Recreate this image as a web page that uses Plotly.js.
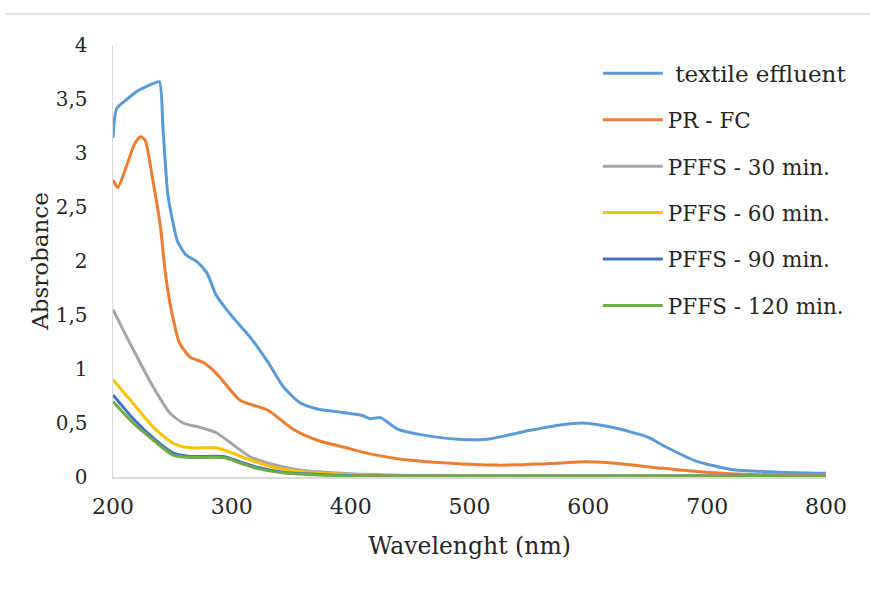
<!DOCTYPE html>
<html>
<head>
<meta charset="utf-8">
<script src="https://cdn.plot.ly/plotly-3.0.1.min.js"></script>
<style>html,body{margin:0;padding:0;background:#fff;}#chart{width:870px;height:594px;}</style>
</head>
<body>
<div id="chart"></div>
<script>
// Series names
const seriesNames = ["\u00a0textile effluent", "PR - FC", "PFFS - 30 min.", "PFFS - 60 min.", "PFFS - 90 min.", "PFFS - 120 min."];
const seriesColors = ["#5B9BD5", "#ED7D31", "#A5A5A5", "#FFC000", "#4472C4", "#70AD47"];

// textile effluent
const wlEffluent = [200, 203, 212, 220, 227, 233, 239, 242, 246, 250, 254, 261, 271, 279, 287, 300, 315, 330, 343, 357, 372, 385, 398, 410, 416, 425, 432, 440, 460, 490, 515, 550, 575, 595, 620, 650, 665, 690, 720, 760, 800];
const absEffluent = [3.14, 3.41, 3.50, 3.57, 3.61, 3.64, 3.66, 3.24, 2.63, 2.38, 2.19, 2.06, 1.99, 1.89, 1.68, 1.49, 1.30, 1.07, 0.84, 0.69, 0.63, 0.61, 0.59, 0.57, 0.54, 0.55, 0.50, 0.44, 0.39, 0.35, 0.35, 0.43, 0.48, 0.50, 0.46, 0.37, 0.28, 0.15, 0.07, 0.045, 0.035];

// PR - FC
const wlPRFC = [200, 204, 212, 218, 223, 227, 233, 240, 244, 249, 256, 265, 276, 287, 307, 330, 352, 372, 400, 410, 439, 481, 523, 560, 593, 621, 663, 691, 719, 760, 800];
const absPRFC = [2.75, 2.68, 2.90, 3.08, 3.15, 3.12, 2.78, 2.31, 1.89, 1.55, 1.24, 1.11, 1.06, 0.96, 0.71, 0.62, 0.44, 0.34, 0.26, 0.23, 0.17, 0.13, 0.11, 0.12, 0.14, 0.13, 0.08, 0.05, 0.03, 0.02, 0.02];

// PFFS - 30 min.
const wl30 = [200, 217, 234, 248, 259, 273, 287, 301, 315, 330, 357, 400, 450, 500, 600, 700, 800];
const abs30 = [1.55, 1.18, 0.83, 0.59, 0.50, 0.46, 0.41, 0.30, 0.19, 0.13, 0.065, 0.03, 0.015, 0.01, 0.01, 0.01, 0.01];

// PFFS - 60 min.
const wl60 = [200, 217, 234, 251, 265, 287, 301, 315, 335, 357, 400, 450, 500, 600, 700, 800];
const abs60 = [0.90, 0.68, 0.46, 0.31, 0.27, 0.27, 0.22, 0.16, 0.09, 0.05, 0.02, 0.01, 0.01, 0.01, 0.01, 0.01];

// PFFS - 90 min.
const wl90 = [200, 217, 234, 251, 265, 293, 307, 321, 343, 400, 450, 500, 600, 700, 800];
const abs90 = [0.76, 0.54, 0.36, 0.22, 0.19, 0.19, 0.14, 0.09, 0.045, 0.012, 0.01, 0.01, 0.01, 0.01, 0.01];

// PFFS - 120 min.
const wl120 = [200, 217, 234, 251, 265, 293, 307, 321, 343, 400, 450, 500, 600, 700, 800];
const abs120 = [0.70, 0.50, 0.34, 0.20, 0.18, 0.18, 0.13, 0.08, 0.04, 0.01, 0.008, 0.008, 0.008, 0.008, 0.008];

// Axis ticks
const xTicks = [200, 300, 400, 500, 600, 700, 800];
const yTicks = [0, 0.5, 1, 1.5, 2, 2.5, 3, 3.5, 4];

const xs = [wlEffluent, wlPRFC, wl30, wl60, wl90, wl120];
const ys = [absEffluent, absPRFC, abs30, abs60, abs90, abs120];

const traces = seriesNames.map((n, i) => ({
  type: 'scatter', mode: 'lines',
  x: xs[i], y: ys[i],
  name: i === 0 ? '<span style="font-size:23px">' + n + '</span>' : n,
  legendgroup: 'g' + i,
  line: {color: seriesColors[i], width: 3, shape: 'spline', smoothing: 0.6}
}));

const FAM = 'DejaVu Serif';
const C = '#262626';

const layout = {
  width: 870, height: 594,
  margin: {l: 113, r: 44, t: 45, b: 117},
  paper_bgcolor: '#fff', plot_bgcolor: '#fff',
  separators: ', ',
  font: {family: FAM, color: C, size: 20},
  showlegend: true,
  legend: {
    x: 0.68, xanchor: 'left', y: 0.982, yanchor: 'top',
    font: {family: FAM, size: 21.5, color: C},
    itemwidth: 60, tracegroupgap: 15.5, bgcolor: 'rgba(0,0,0,0)'
  },
  xaxis: {
    range: [200, 800], tickvals: xTicks, showgrid: false, zeroline: false, automargin: false,
    showline: true, linecolor: '#d9d9d9', linewidth: 1.5, ticks: '',
    tickfont: {family: FAM, color: C, size: 22}, ticklabelstandoff: 9,
    title: {text: 'Wavelenght (nm)', font: {family: FAM, color: C, size: 23.5}, standoff: 19}
  },
  yaxis: {
    range: [0, 4], tickvals: yTicks, showgrid: false, zeroline: false, automargin: false,
    showline: true, linecolor: '#d9d9d9', linewidth: 1.5, ticks: '',
    tickfont: {family: FAM, color: C, size: 20}, ticklabelstandoff: 20,
    title: {text: 'Absrobance', font: {family: FAM, color: C, size: 23}, standoff: 0}
  },
  shapes: [{
    type: 'line', xref: 'paper', yref: 'paper',
    x0: -0.151, x1: 1.07, y0: 1.072, y1: 1.072,
    line: {color: '#d9d9d9', width: 1.5}
  }]
};

Plotly.newPlot('chart', traces, layout, {displayModeBar: false, staticPlot: true});
</script>
</body>
</html>
